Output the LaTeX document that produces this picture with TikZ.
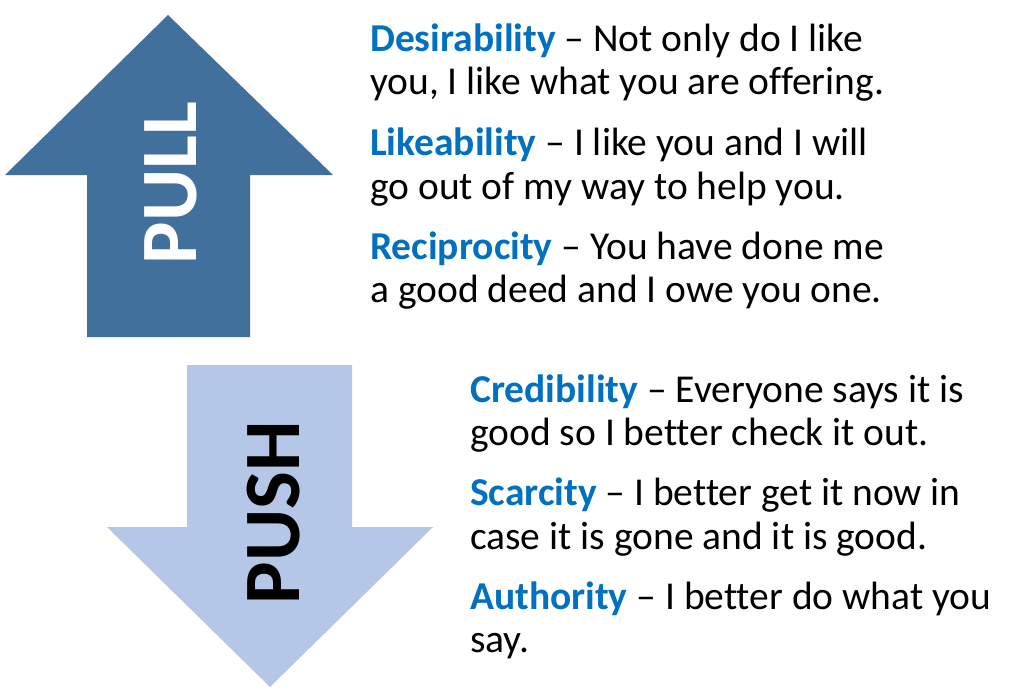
\documentclass[tikz,border=0pt]{standalone}
\usepackage{fontspec}
\setmainfont{Carlito}[Ligatures={NoCommon,TeX}]
\definecolor{pullc}{HTML}{41709C}
\definecolor{pushc}{HTML}{B4C7E7}
\definecolor{kw}{HTML}{0070C0}
\begin{document}
\begin{tikzpicture}[x=1pt,y=-1pt,
  ln/.style={anchor=base west,inner sep=0pt,font=\fontsize{39.5}{44}\selectfont},
  big/.style={font=\fontsize{80}{90}\selectfont\bfseries,rotate=90,inner sep=0pt}]
\useasboundingbox (0,0) rectangle (1024,690);
\fill[pullc] (168,15) -- (333,175) -- (250,175) -- (250,337) -- (87,337) -- (87,175) -- (5,175) -- cycle;
\fill[pushc] (187,365) -- (352,365) -- (352,527) -- (433,527) -- (270,687) -- (107,527) -- (187,527) -- cycle;
\node[big,text=white] (pull) at (171,183) {PULL};
\node[big,text=black] (push) at (274,513) {PUSH};
\def\k#1{\textcolor{kw}{\textbf{#1}}}
\node[ln] (a1) at (370,52) {\k{Desirability} – Not only do I like};
\node[ln] (a2) at (370,95) {you, I like what you are offering.};
\node[ln] (b1) at (370,155) {\k{Likeability} – I like you and I will};
\node[ln] (b2) at (370,199) {go out of my way to help you.};
\node[ln] (c1) at (370,259) {\k{Reciprocity} – You have done me};
\node[ln] (c2) at (370,302) {a good deed and I owe you one.};
\node[ln] (d1) at (470,402) {\k{Credibility} – Everyone says it is};
\node[ln] (d2) at (470,445) {good so I better check it out.};
\node[ln] (e1) at (470,505) {\k{Scarcity} – I better get it now in};
\node[ln] (e2) at (470,549) {case it is gone and it is good.};
\node[ln] (f1) at (470,609) {\k{Authority} – I better do what you};
\node[ln] (f2) at (470,652) {say.};
\end{tikzpicture}
\end{document}
